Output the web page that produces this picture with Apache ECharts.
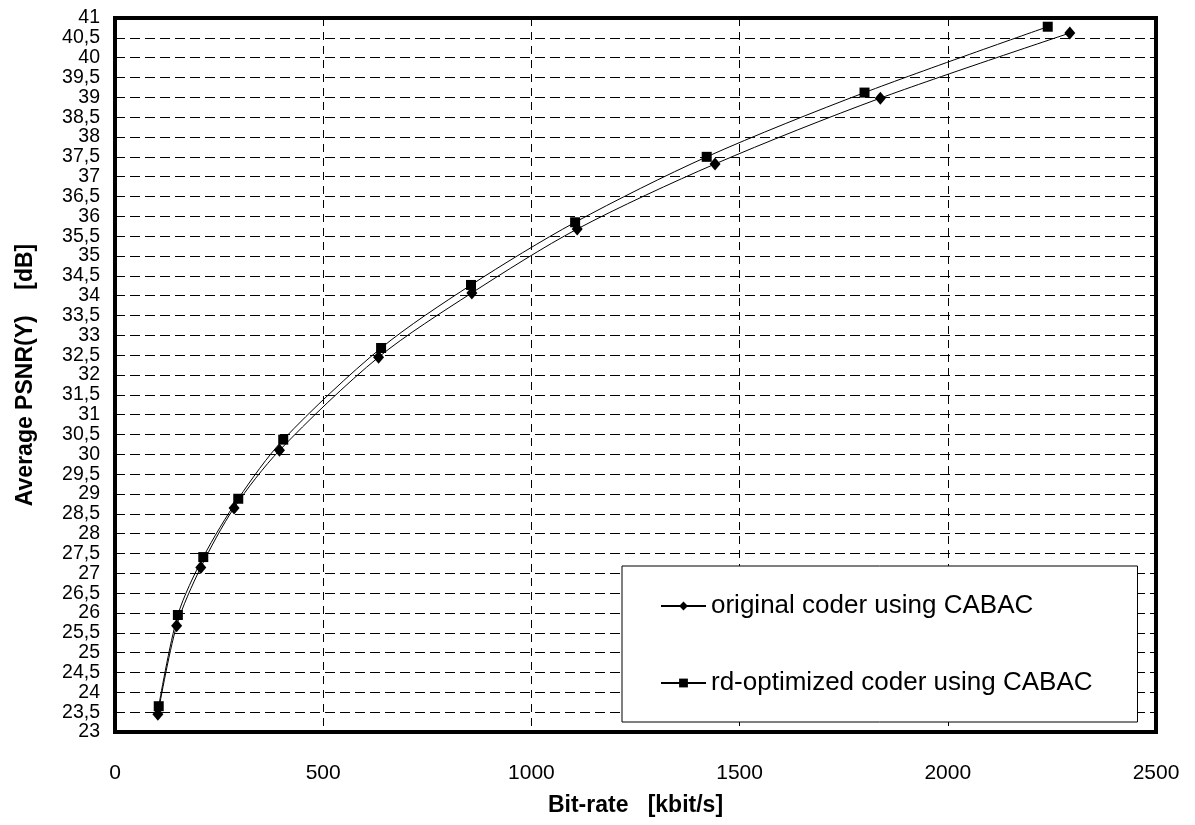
<!DOCTYPE html>
<html>
<head>
<meta charset="utf-8">
<script src="https://cdn.jsdelivr.net/npm/echarts@6/dist/echarts.min.js"></script>
<style>
  html, body { margin: 0; padding: 0; background: #fff; }
  #main { width: 1195px; height: 825px; }
</style>
</head>
<body>
<div id="main"></div>
<script>
var chartDom = document.getElementById('main');
var myChart = echarts.init(chartDom);
var option;

// bit-rate [kbit/s] and PSNR [dB]
var origRate = [103, 148, 206, 286, 395, 633, 857, 1110, 1441, 1838, 2293];
var origPsnr = [23.45, 25.68, 27.15, 28.65, 30.1, 32.45, 34.07, 35.68, 37.32, 38.98, 40.62];
var rdoRate = [105, 151, 212, 296, 404, 639, 855, 1105, 1421, 1800, 2240];
var rdoPsnr = [23.65, 25.95, 27.41, 28.88, 30.37, 32.68, 34.27, 35.85, 37.5, 39.12, 40.78];
var names = ['original coder using CABAC', 'rd-optimized coder using CABAC'];

var font = '"Liberation Sans", Arial, sans-serif';

function pairs(xs, ys) {
  return xs.map((x, i) => [x, ys[i]]);
}

option = {
  animation: false,
  backgroundColor: '#fff',
  textStyle: { fontFamily: font, color: '#000' },
  grid: {
    left: 115,
    top: 18,
    right: 39,
    bottom: 93,
    show: true,
    borderColor: '#000',
    borderWidth: 4,
    backgroundColor: 'transparent',
  },
  legend: {
    orient: 'vertical',
    left: 622,
    top: 566,
    padding: [27, 45, 26, 38],
    itemGap: 51,
    itemWidth: 45,
    itemHeight: 11,
    backgroundColor: '#fff',
    borderColor: '#000',
    borderWidth: 1,
    textStyle: { fontFamily: font, fontSize: 26, color: '#000' },
    data: names,
  },
  xAxis: {
    type: 'value',
    min: 0,
    max: 2500,
    interval: 500,
    name: 'Bit-rate   [kbit/s]',
    nameLocation: 'middle',
    nameGap: 62,
    nameTextStyle: { fontFamily: font, fontSize: 23, fontWeight: 'bold', color: '#000' },
    axisLine: { show: false },
    axisTick: { show: false },
    axisLabel: {
      fontFamily: font,
      fontSize: 21,
      color: '#000',
      margin: 31,
      showMinLabel: true,
      showMaxLabel: true,
      formatter: (v) => String(v),
    },
    splitLine: { show: true, lineStyle: { color: '#000', type: [8, 6], width: 1 } },
  },
  yAxis: {
    type: 'value',
    min: 23,
    max: 41,
    interval: 0.5,
    name: 'Average PSNR(Y)    [dB]',
    nameLocation: 'middle',
    nameGap: 78,
    nameTextStyle: { fontFamily: font, fontSize: 23, fontWeight: 'bold', color: '#000' },
    axisLine: { show: false },
    axisTick: { show: false },
    axisLabel: {
      fontFamily: font,
      fontSize: 19.5,
      color: '#000',
      margin: 15,
      showMinLabel: true,
      showMaxLabel: true,
      formatter: (v) => String(v).replace('.', ','),
    },
    splitLine: { show: true, lineStyle: { color: '#000', type: [10, 5], width: 1 } },
  },
  series: [
    {
      name: names[0],
      type: 'line',
      smooth: 0.3,
      data: pairs(origRate, origPsnr),
      symbol: 'diamond',
      symbolSize: [11, 13],
      itemStyle: { color: '#000' },
      lineStyle: { color: '#000', width: 1 },
      z: 3,
    },
    {
      name: names[1],
      type: 'line',
      smooth: 0.3,
      data: pairs(rdoRate, rdoPsnr),
      symbol: 'rect',
      symbolSize: 10,
      itemStyle: { color: '#000' },
      lineStyle: { color: '#000', width: 1 },
      z: 3,
    },
  ],
};

option && myChart.setOption(option);

window.onresize = function () {
  myChart.resize();
};
</script>
</body>
</html>
